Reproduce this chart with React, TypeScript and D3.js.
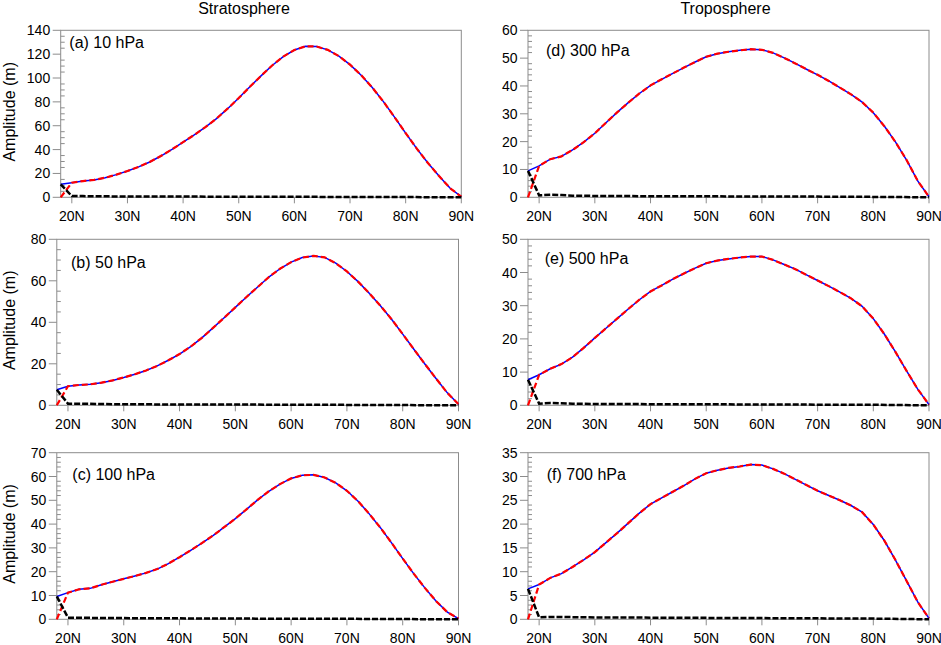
import React from "react";
import * as d3 from "d3";

// ---------- data ----------
const LATS = [18, 20, 22, 24, 26, 28, 30, 32, 34, 36, 38, 40, 42, 44, 46, 48, 50, 52, 54, 56, 58, 60, 62, 64, 66, 68, 70, 72, 74, 76, 78, 80, 82, 84, 86, 88, 90];

const AMP_10 = [10.9, 12.2, 13.6, 14.6, 16.4, 19, 22, 25.5, 29.6, 34.6, 40.2, 46.2, 52.3, 58.8, 66, 74.3, 83.2, 92.6, 101.8, 110.5, 118, 123.5, 126.6, 126.4, 123.6, 118.4, 111.2, 102.4, 92, 80.2, 67.2, 53.8, 40.8, 28.8, 17.8, 7.6, 0.5];
const AMP_50 = [7.5, 9.2, 9.8, 10.1, 10.9, 12, 13.4, 15, 16.8, 19, 21.7, 24.7, 28.3, 32.5, 37.3, 42.2, 47.2, 52.2, 57, 61.8, 65.8, 69, 71.2, 72, 71.3, 68.5, 64.5, 59.6, 54, 48, 41.5, 34.3, 27, 19.8, 12.8, 6, 0.5];
const AMP_100 = [9.6, 11.2, 12.6, 13, 14.5, 15.8, 17, 18.2, 19.5, 21.1, 23.4, 26.1, 29, 32, 35.2, 38.7, 42.3, 46.2, 50.2, 53.8, 56.8, 59.2, 60.5, 60.7, 59.6, 57.3, 54, 49.6, 44.3, 38.5, 32.1, 25.5, 19.1, 13.1, 7.6, 3, 0.3];
const AMP_300 = [9.5, 11.3, 13.7, 14.7, 17, 19.8, 23, 26.8, 30.5, 34, 37.3, 40.2, 42.4, 44.5, 46.6, 48.6, 50.5, 51.6, 52.3, 52.8, 53.2, 53, 51.9, 50.1, 48.1, 46, 44, 41.8, 39.4, 37, 34.2, 30.4, 25.5, 19.8, 13.3, 5.8, 0.2];
const AMP_500 = [7.7, 9.2, 11, 12.4, 14.5, 17.3, 20.3, 23.2, 26.1, 29, 31.8, 34.3, 36.1, 38, 39.7, 41.3, 42.8, 43.6, 44.1, 44.5, 44.8, 44.8, 43.8, 42.4, 41, 39.3, 37.6, 35.9, 34.1, 32.2, 29.8, 26.1, 21.4, 16, 10.3, 4.8, 0.2];
const AMP_700 = [6.4, 7.3, 8.7, 9.6, 11, 12.5, 14.1, 16.1, 18.1, 20.2, 22.3, 24.2, 25.5, 26.8, 28.1, 29.5, 30.7, 31.3, 31.8, 32.1, 32.5, 32.4, 31.6, 30.6, 29.4, 28.2, 27, 26, 25, 23.9, 22.5, 19.9, 16.5, 12.4, 8, 3.6, 0.2];

// red dashed series starts at zero at 18N and follows the total afterwards
const RED_AT_18 = [0, 0, 0, 0, 0, 0];

const BLACK_LATS = [18, 20, 22, 24, 26, 30, 40, 50, 60, 70, 80, 90];
const RES_10 = [10.9, 1.0, 1.0, 0.9, 0.8, 0.7, 0.6, 0.5, 0.4, 0.3, 0.2, 0.0];
const RES_50 = [7.5, 0.8, 0.8, 0.7, 0.6, 0.5, 0.4, 0.35, 0.3, 0.2, 0.1, 0.0];
const RES_100 = [9.6, 0.7, 0.7, 0.6, 0.55, 0.5, 0.4, 0.3, 0.25, 0.2, 0.1, 0.0];
const RES_300 = [9.5, 0.7, 0.9, 0.8, 0.6, 0.5, 0.4, 0.35, 0.3, 0.25, 0.15, 0.0];
const RES_500 = [7.7, 0.5, 0.7, 0.6, 0.5, 0.4, 0.35, 0.3, 0.25, 0.2, 0.15, 0.0];
const RES_700 = [6.4, 0.4, 0.5, 0.5, 0.45, 0.4, 0.35, 0.3, 0.25, 0.2, 0.15, 0.0];

const X_TICKS = [20, 30, 40, 50, 60, 70, 80, 90];
const X_TICK_LABELS = ["20N", "30N", "40N", "50N", "60N", "70N", "80N", "90N"];

const PANEL_TITLES = ["(a) 10 hPa", "(b) 50 hPa", "(c) 100 hPa", "(d) 300 hPa", "(e) 500 hPa", "(f) 700 hPa"];
const Y_MAX = [140, 80, 70, 60, 50, 35];
const Y_MAJOR = [20, 20, 10, 10, 10, 5];
const Y_MINOR = [5, 5, 2, 2, 2, 1];
const COLUMN_TITLES = ["Stratosphere", "Troposphere"];
const Y_LABEL = "Amplitude (m)";

const AMPS = [AMP_10, AMP_50, AMP_100, AMP_300, AMP_500, AMP_700];
const RESS = [RES_10, RES_50, RES_100, RES_300, RES_500, RES_700];

// ---------- layout ----------
const LAYOUT = [
  { left: 60.7, right: 461.3, top: 30.3, bottom: 197.3, lx: 8.6, ly: 18 },
  { left: 56.8, right: 458.5, top: 239.3, bottom: 405.3, lx: 14.2, ly: 28.5 },
  { left: 56.8, right: 458.5, top: 452.7, bottom: 619.3, lx: 15.5, ly: 27.7 },
  { left: 528, right: 929, top: 30.3, bottom: 197.3, lx: 18, ly: 25.3 },
  { left: 528, right: 929, top: 239.3, bottom: 405.3, lx: 16.7, ly: 25 },
  { left: 528, right: 929, top: 452.7, bottom: 619.3, lx: 18.7, ly: 27 },
];

const FONT = "'Liberation Sans', Arial, Helvetica, sans-serif";
const AXIS_COLOR = "#8c8c8c";

function Panel({ idx }: { idx: number }) {
  const L = LAYOUT[idx];
  const x = d3.scaleLinear().domain([18, 90]).range([L.left, L.right]);
  const y = d3.scaleLinear().domain([0, Y_MAX[idx]]).range([L.bottom, L.top]);
  const amp = AMPS[idx];
  const total = LATS.map((lat, i) => [lat, amp[i]] as [number, number]);
  const red = LATS.map((lat, i) => [lat, i === 0 ? RED_AT_18[idx] : amp[i]] as [number, number]);
  const res = BLACK_LATS.map((lat, i) => [lat, RESS[idx][i]] as [number, number]);
  const line = d3.line<[number, number]>().x((d) => x(d[0])).y((d) => y(d[1]));

  const majors = d3.range(0, Y_MAX[idx] + 1e-9, Y_MAJOR[idx]);
  const minors = d3.range(0, Y_MAX[idx] + 1e-9, Y_MINOR[idx]).filter(
    (v) => Math.abs(v / Y_MAJOR[idx] - Math.round(v / Y_MAJOR[idx])) > 1e-6
  );

  return (
    <g>
      <rect x={L.left} y={L.top} width={L.right - L.left} height={L.bottom - L.top} fill="none" stroke={AXIS_COLOR} strokeWidth={1} />
      {majors.map((v) => (
        <g key={"M" + v}>
          <line x1={L.left - 8} x2={L.left} y1={y(v)} y2={y(v)} stroke={AXIS_COLOR} strokeWidth={1} />
          <text x={L.left - 10.5} y={y(v) + 5} textAnchor="end" fontSize={14} fontFamily={FONT} fill="#000">
            {v}
          </text>
        </g>
      ))}
      {minors.map((v) => (
        <line key={"m" + v} x1={L.left} x2={L.left + 4} y1={y(v)} y2={y(v)} stroke={AXIS_COLOR} strokeWidth={1} />
      ))}
      {X_TICKS.map((t, i) => (
        <g key={"x" + t}>
          <line x1={x(t)} x2={x(t)} y1={L.bottom} y2={L.bottom + 6} stroke={AXIS_COLOR} strokeWidth={1} />
          <text x={x(t)} y={L.bottom + 23.5} textAnchor="middle" fontSize={14} fontFamily={FONT} fill="#000">
            {X_TICK_LABELS[i]}
          </text>
        </g>
      ))}
      <path d={line(total) || ""} fill="none" stroke="#0000ff" strokeWidth={1.5} />
      <path d={line(red) || ""} fill="none" stroke="#ff0000" strokeWidth={2.2} strokeDasharray="6,3" />
      <path d={line(res) || ""} fill="none" stroke="#000" strokeWidth={2.5} strokeDasharray="6,2" />
      <text x={L.left + L.lx} y={L.top + L.ly} fontSize={16} fontFamily={FONT} fill="#000">
        {PANEL_TITLES[idx]}
      </text>
      {idx < 3 && (
        <text
          transform={`translate(14.5, ${(L.top + L.bottom) / 2 - 2}) rotate(-90)`}
          textAnchor="middle"
          fontSize={16}
          fontFamily={FONT}
          fill="#000"
        >
          {Y_LABEL}
        </text>
      )}
    </g>
  );
}

export default function App() {
  return (
    <svg width={941} height={645} style={{ position: "absolute", left: 0, top: 0, background: "#fff" }}>
      <rect x={0} y={0} width={941} height={645} fill="#fff" />
      <text x={244} y={13.5} textAnchor="middle" fontSize={16} fontFamily={FONT} fill="#000">
        {COLUMN_TITLES[0]}
      </text>
      <text x={725.5} y={13.5} textAnchor="middle" fontSize={16} fontFamily={FONT} fill="#000">
        {COLUMN_TITLES[1]}
      </text>
      {[0, 1, 2, 3, 4, 5].map((i) => (
        <Panel key={i} idx={i} />
      ))}
    </svg>
  );
}
